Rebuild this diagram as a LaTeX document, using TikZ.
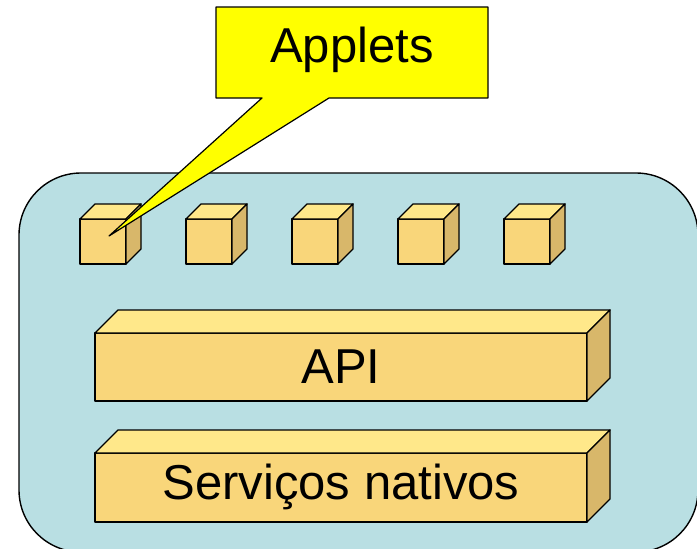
\documentclass[tikz,border=0pt]{standalone}
\usepackage{fontspec}
\setmainfont{Liberation Sans}

\definecolor{fundo}{RGB}{185,223,227}
\definecolor{frente}{RGB}{249,214,122}
\definecolor{topo}{RGB}{255,232,138}
\definecolor{lado}{RGB}{216,183,106}
\definecolor{balao}{RGB}{255,255,0}

% caixa 3D: x, y (canto superior esquerdo da frente), largura, altura, profundidade
\newcommand{\caixa}[5]{%
  \draw[line width=1.4pt, line join=round, fill=frente] (#1,#2) rectangle ++(#3,#4);
  \draw[line width=1.4pt, line join=round, fill=topo] (#1,#2) -- ++(#5,-#5) -- ++(#3,0) -- ++(-#5,#5) -- cycle;
  \draw[line width=1.4pt, line join=round, fill=lado] (#1+#3,#2) -- ++(#5,-#5) -- ++(0,#4) -- ++(-#5,#5) -- cycle;
}

\begin{document}
\begin{tikzpicture}[x=1pt, y=-1pt]
			
			\useasboundingbox (0,0) rectangle (697,549);
			\clip (0,0) rectangle (697,549);
			
			\draw[line width=1.4pt, fill=fundo, rounded corners=62pt] (19,173) rectangle (698,552);
			
			\foreach \i in {0,...,4}{
			\caixa{80+106*\i}{219}{46}{45}{15}
			}
			
			\caixa{95}{333}{492}{68}{23}
			\node[font=\fontsize{49}{55}\selectfont] (api) at (341,367) {API};
			
			\caixa{95}{453}{492}{69}{23}
			\node[font=\fontsize{49}{55}\selectfont] (servicos) at (341,487) {Serviços nativos};
			
			\draw[line width=1.2pt, line join=round, fill=balao] (216,7) -- (488,7) -- (488,98) -- (329,98) -- (109,236) -- (262,98) -- (216,98) -- cycle;
			\node[font=\fontsize{49}{55}\selectfont] (applets) at (352,50) {Applets};
			
			\end{tikzpicture}
\end{document}
